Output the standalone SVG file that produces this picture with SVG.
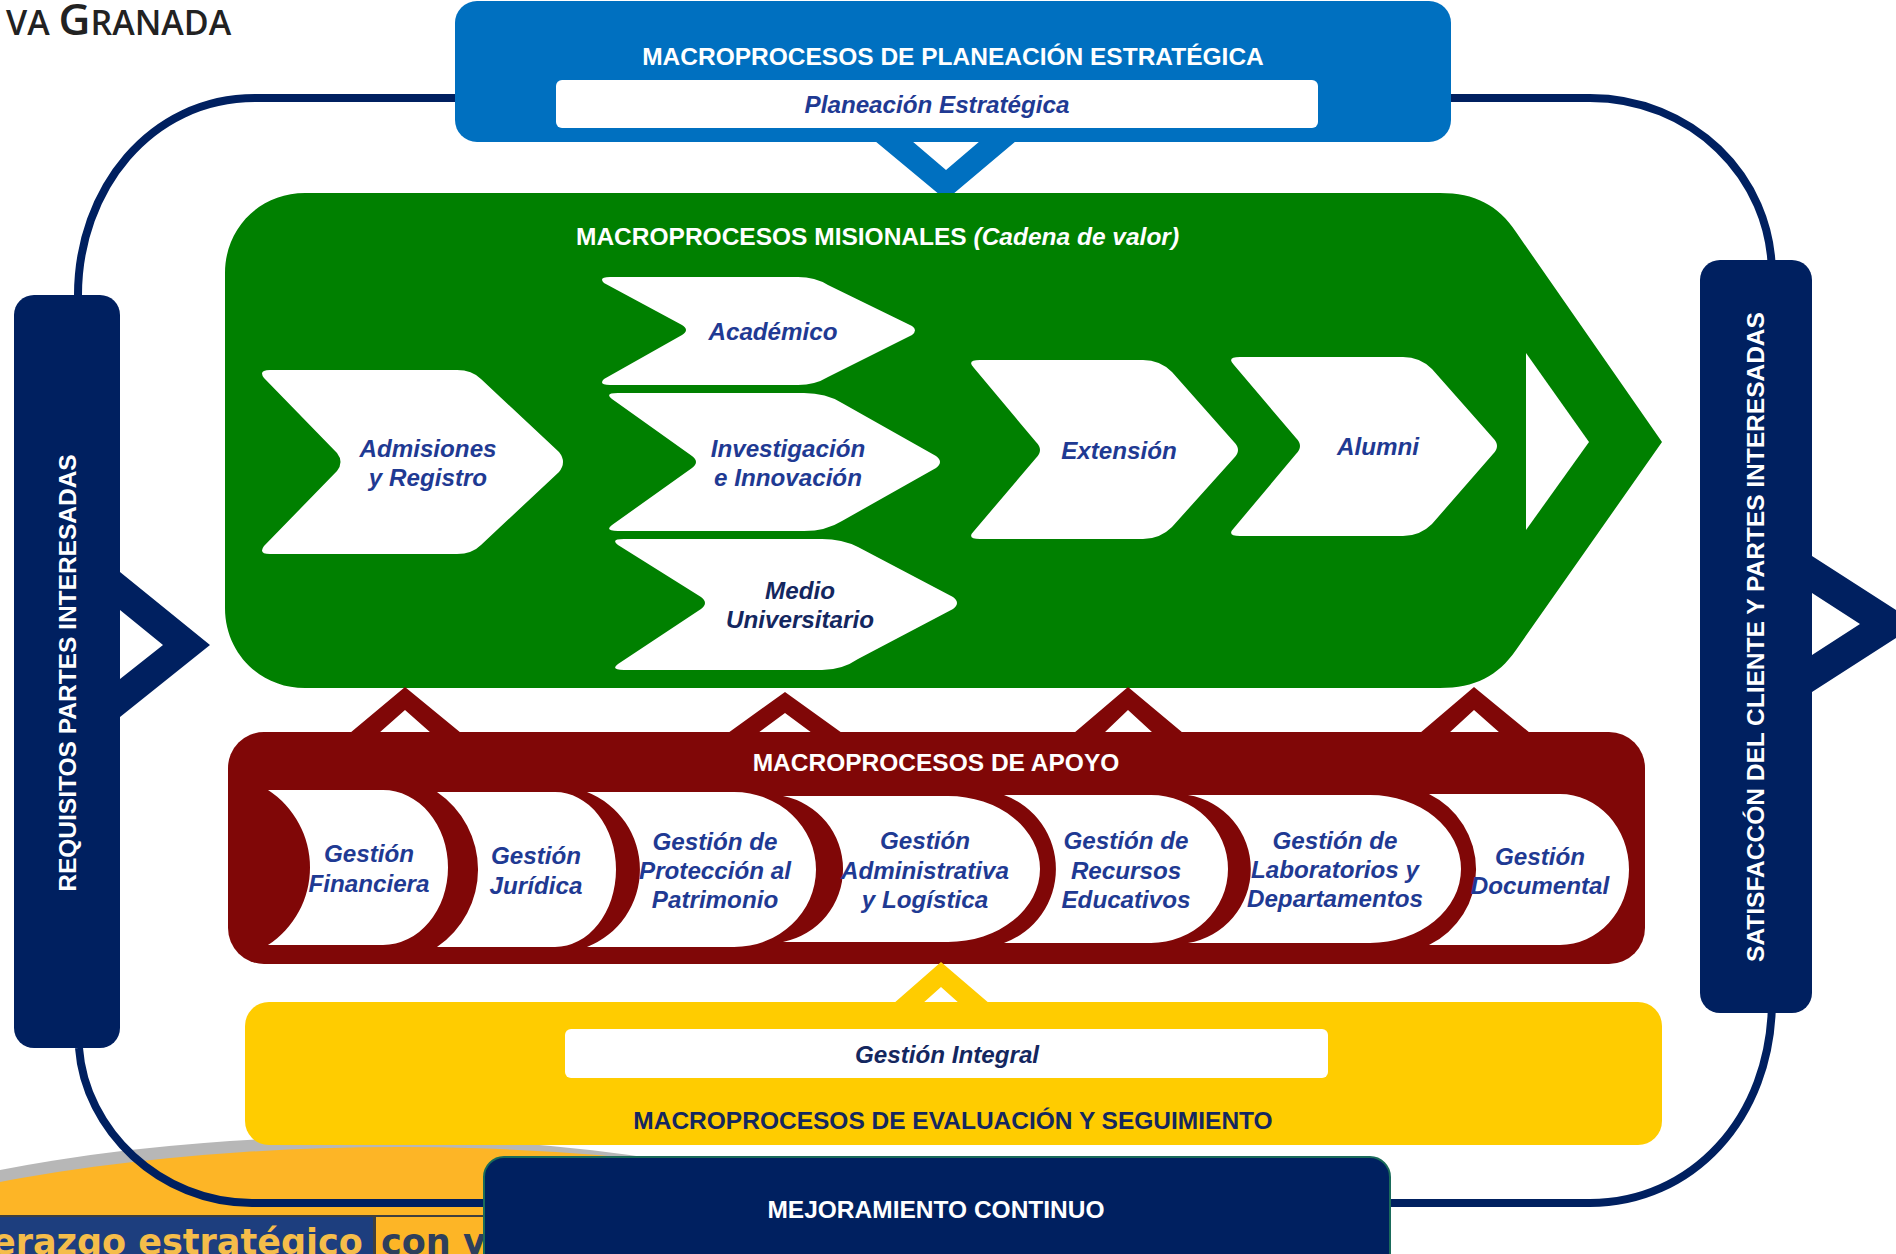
<svg xmlns="http://www.w3.org/2000/svg" width="1896" height="1254" viewBox="0 0 1896 1254">
<style>
text{font-family:"Liberation Sans",Arial,sans-serif;font-weight:700;text-anchor:middle}
.l{font-size:24.2px;font-style:italic;fill:#1f3a93}
.h{font-size:24.5px;fill:#fff}
.w{fill:#fff}
.m{fill:#800707}
.nv{fill:#002060}
</style>
<rect width="1896" height="1254" fill="#fff"/>
<g id="background">
<ellipse cx="360" cy="1445" rx="800" ry="308" fill="#b7b7b7"/>
<ellipse cx="400" cy="1408" rx="800" ry="261" fill="#fdb526"/>
<rect x="0" y="1215" width="500" height="39" fill="#3f3f3f"/>
<rect x="0" y="1217" width="373" height="37" fill="#1d3e7e"/>
<rect x="376" y="1217" width="124" height="37" fill="#fdb526"/>
<text x="-8" y="1254" style="font-family:'DejaVu Sans',sans-serif;text-anchor:start;font-size:35px;fill:#f5bd4a">erazgo estratégico</text>
<text x="381" y="1254" style="font-family:'DejaVu Sans',sans-serif;text-anchor:start;font-size:35px;fill:#2e3f5c">con v</text>
</g>
<g id="logo">
<text x="6" y="35" style="font-family:'Open Sans',sans-serif;font-weight:600;text-anchor:start;font-size:34px;fill:#222">VA <tspan font-size="44">G</tspan>RANADA</text>
</g>
<g id="connectors">
<path d="M470 98H255C150 98 78 190 78 295M79 1048C85 1130 160 1203 252 1203H500M1430 98H1590C1690 98 1772 175 1772 275M1772 1000C1772 1120 1690 1203 1590 1203H1380" fill="none" stroke="#002060" stroke-width="8"/>
</g>
<g id="planeacion">
<rect x="455" y="1" width="996" height="141" rx="22" fill="#0070c0"/>
<polygon points="875,141 946,200 1016,141 980,141 946,170 912,141" fill="#0070c0"/>
<rect x="556" y="80" width="762" height="48" rx="6" fill="#fff"/>
<text class="h" x="953" y="65">MACROPROCESOS DE PLANEACIÓN ESTRATÉGICA</text>
<text class="l" x="937" y="113">Planeación Estratégica</text>
</g>
<g id="misionales">
<path d="M305 193H1440C1475 193 1498 205 1516 232L1662 442L1516 650C1498 676 1475 688 1440 688H305C260 688 225 653 225 608V273C225 228 260 193 305 193Z" fill="#008000"/>
<polygon points="1526,353 1589,442 1526,530" fill="#fff"/>
<text class="h" x="576" y="245" style="text-anchor:start">MACROPROCESOS MISIONALES <tspan font-style="italic">(Cadena de valor)</tspan></text>
</g>
<g id="admisiones"><path class="w" d="M270 370H457Q472 370 481 379L559 452Q567 462 559 472L481 545Q472 554 457 554H270Q258 554 264 546L337 471Q344 462 337 453L264 378Q258 370 270 370Z"/><text class="l" x="428" y="457">Admisiones</text><text class="l" x="428" y="486">y Registro</text></g>
<g id="academico"><path class="w" d="M610 277H798Q815 277 828 285L912 326Q918 330 912 335L828 377Q815 385 798 385H610Q598 385 604 379L682 335Q690 330 682 325L604 283Q598 277 610 277Z"/><text class="l" x="773" y="340">Académico</text></g>
<g id="investigacion"><path class="w" d="M618 393H804Q826 393 842 403L936 456Q944 462 936 468L842 521Q826 531 804 531H618Q604 531 612 525L692 468Q700 462 692 456L612 399Q604 393 618 393Z"/><text class="l" x="788" y="457">Investigación</text><text class="l" x="788" y="486">e Innovación</text></g>
<g id="medio"><path class="w" d="M624 539H822Q842 539 858 547L953 597Q961 603 953 609L858 659Q842 670 822 670H624Q610 670 618 664L701 609Q709 603 701 597L618 545Q610 539 624 539Z"/><text class="l" x="800" y="599" style="fill:#14275f">Medio</text><text class="l" x="800" y="628" style="fill:#14275f">Universitario</text></g>
<g id="extension"><path class="w" d="M980 360H1143Q1160 360 1172 372L1234 442Q1242 450 1234 458L1172 527Q1160 539 1143 539H980Q966 539 974 531L1036 458Q1044 450 1036 442L974 368Q966 360 980 360Z"/><text class="l" x="1119" y="459">Extensión</text></g>
<g id="alumni"><path class="w" d="M1240 357H1403Q1420 357 1432 369L1493 438Q1501 446 1493 454L1432 524Q1420 536 1403 536H1240Q1226 536 1234 528L1296 454Q1304 446 1296 438L1234 365Q1226 357 1240 357Z"/><text class="l" x="1378" y="455">Alumni</text></g>
<g id="apoyo">
<polygon class="m" points="350,733 405,687 461,733 431,733 405,710 379,733"/>
<polygon class="m" points="728,733 785,692 842,733 812,733 785,713 758,733"/>
<polygon class="m" points="1074,733 1128,687 1183,733 1153,733 1128,710 1104,733"/>
<polygon class="m" points="1420,733 1474,687 1530,733 1500,733 1474,710 1449,733"/>
<rect class="m" x="228" y="732" width="1417" height="232" rx="36"/>
<text class="h" x="936" y="771">MACROPROCESOS DE APOYO</text>
</g>
<g id="financiera"><path class="w" d="M268 790A92.500 92.500 0 0 1 268 945H383A65 77.500 0 0 0 383 790Z"/><text class="l" x="369" y="862">Gestión</text><text class="l" x="369" y="892">Financiera</text></g>
<g id="juridica"><path class="w" d="M437 792A93.700 93.700 0 0 1 437 947H555A61 77.500 0 0 0 555 792Z"/><text class="l" x="536" y="864">Gestión</text><text class="l" x="536" y="894">Jurídica</text></g>
<g id="patrimonio"><path class="w" d="M587 792A83.200 83.200 0 0 1 587 947H734A82 77.500 0 0 0 734 792Z"/><text class="l" x="715" y="850">Gestión de</text><text class="l" x="715" y="879">Protección al</text><text class="l" x="715" y="908">Patrimonio</text></g>
<g id="administrativa"><path class="w" d="M783 796A74.400 74.400 0 0 1 783 942H948A92 73 0 0 0 948 796Z"/><text class="l" x="925" y="849">Gestión</text><text class="l" x="925" y="879">Administrativa</text><text class="l" x="925" y="908">y Logística</text></g>
<g id="recursos"><path class="w" d="M1004 795A78.700 78.700 0 0 1 1004 943H1151A77 74 0 0 0 1151 795Z"/><text class="l" x="1126" y="849">Gestión de</text><text class="l" x="1126" y="879">Recursos</text><text class="l" x="1126" y="908">Educativos</text></g>
<g id="laboratorios"><path class="w" d="M1188 795A75 75 0 0 1 1188 943H1370A91 74 0 0 0 1370 795Z"/><text class="l" x="1335" y="849">Gestión de</text><text class="l" x="1335" y="878">Laboratorios y</text><text class="l" x="1335" y="907">Departamentos</text></g>
<g id="documental"><path class="w" d="M1429 794A84.100 84.100 0 0 1 1429 945H1560A69 75.500 0 0 0 1560 794Z"/><text class="l" x="1540" y="865">Gestión</text><text class="l" x="1540" y="894">Documental</text></g>
<g id="evaluacion">
<polygon points="893,1004 941,962 990,1004 960,1004 941,987 922,1004" fill="#ffcc00"/>
<rect x="245" y="1002" width="1417" height="143" rx="24" fill="#ffcc00"/>
<rect x="565" y="1029" width="763" height="49" rx="6" fill="#fff"/>
<text class="l" x="947" y="1063" style="fill:#14275f">Gestión Integral</text>
<text class="h" x="953" y="1129" style="fill:#14275f">MACROPROCESOS DE EVALUACIÓN Y SEGUIMIENTO</text>
</g>
<g id="mejoramiento">
<rect x="484" y="1157" width="906" height="120" rx="20" fill="#002060" stroke="#1a6b5a" stroke-width="2"/>
<text class="h" x="936" y="1218">MEJORAMIENTO CONTINUO</text>
</g>
<g id="requisitos">
<polygon class="nv" points="120,572 210,645 120,717 120,679 163,645 120,610"/>
<rect class="nv" x="14" y="295" width="106" height="753" rx="20"/>
<text class="h" transform="translate(76 673) rotate(-90)">REQUISITOS PARTES INTERESADAS</text>
</g>
<g id="satisfaccion">
<polygon class="nv" points="1812,556 1918,624 1812,692 1812,655 1860,624 1812,593"/>
<rect class="nv" x="1700" y="260" width="112" height="753" rx="20"/>
<text class="h" transform="translate(1764 637) rotate(-90)">SATISFACCÓN DEL CLIENTE Y PARTES INTERESADAS</text>
</g>
</svg>
